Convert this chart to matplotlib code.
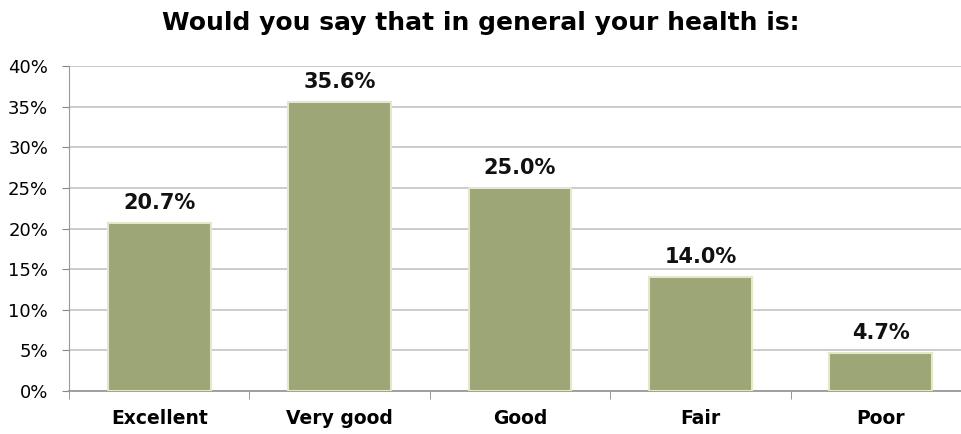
import matplotlib.pyplot as plt
import numpy as np

# survey answers
categories = ["Excellent", "Very good", "Good", "Fair", "Poor"]
percents = [20.7, 35.6, 25.0, 14.0, 4.7]
yticks = [0, 5, 10, 15, 20, 25, 30, 35, 40]

barColor = "#9da677"
edgeColor = "#e4e8c8"

fig = plt.figure(figsize=(9.61, 4.34), dpi=100)
# right edge of the plot runs past the picture, like the original crop
ax = fig.add_axes([69 / 961, 43 / 434, 902 / 961, 325 / 434])

x = np.arange(len(categories))
bars = ax.bar(x, percents, width=0.57, color=barColor, edgecolor=edgeColor,
              linewidth=1.5, zorder=3)

for xi, p in zip(x, percents):
    ax.text(xi, p + 1.25, "{:.1f}%".format(p), ha="center", va="bottom",
            fontsize=15, fontweight="bold", color="#111111")

ax.set_xlim(-0.5, len(categories) - 0.5)
ax.set_ylim(0, 40)
ax.set_yticks(yticks)
ax.set_yticklabels(["{}%".format(t) for t in yticks], fontsize=13)
ax.set_xticks(x)
ax.set_xticklabels(categories, fontsize=13.5, fontweight="bold")
ax.set_xticks(np.arange(len(categories) + 1) - 0.5, minor=True)
ax.tick_params(axis="x", which="major", length=0, pad=13)
ax.tick_params(axis="x", which="minor", length=6, color="#888888")
ax.tick_params(axis="y", length=5, color="#888888", pad=10)

ax.grid(axis="y", color="#c8c8c8", linewidth=1.3, zorder=0)
for side in ["top", "right"]:
    ax.spines[side].set_visible(False)
ax.spines["left"].set_color("#999999")
ax.spines["bottom"].set_color("#999999")
ax.spines["bottom"].set_linewidth(1.3)

fig.text(0.5, 0.948, "Would you say that in general your health is:",
         ha="center", va="center", fontsize=18, fontweight="bold")

fig.savefig("out.png", dpi=100)
